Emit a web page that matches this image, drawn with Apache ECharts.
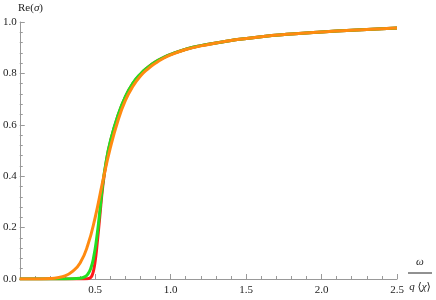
<!DOCTYPE html>
<html>
<head>
<meta charset="utf-8">
<script src="https://cdn.jsdelivr.net/npm/echarts@6/dist/echarts.min.js"></script>
<style>html,body{margin:0;padding:0;background:#fff}#c{width:436px;height:300px}</style>
</head>
<body>
<div id="c"></div>
<script>
var xTicks = ['0.5', '1.0', '1.5', '2.0', '2.5'];
var yTicks = ['0.0', '0.2', '0.4', '0.6', '0.8', '1.0'];

var omegaOrange = [0, 0.1, 0.2, 0.25, 0.3, 0.35, 0.4, 0.45, 0.5, 0.55, 0.6, 0.65, 0.7, 0.75, 0.8, 0.85, 0.9, 0.95, 1.0, 1.1, 1.2, 1.3, 1.4, 1.6, 1.8, 2.0, 2.2, 2.5];
var sigmaOrange = [0, 0.0, 0.002, 0.005, 0.012, 0.03, 0.062, 0.13, 0.24, 0.38, 0.51, 0.615, 0.695, 0.75, 0.79, 0.818, 0.84, 0.858, 0.872, 0.893, 0.907, 0.918, 0.928, 0.943, 0.953, 0.961, 0.968, 0.977];

var omegaGreen = [0, 0.2, 0.3, 0.4, 0.43, 0.45, 0.47, 0.49, 0.51, 0.53, 0.55, 0.575, 0.6, 0.65, 0.7, 0.75, 0.8, 0.85, 0.9, 0.95, 1.0, 1.1, 1.2, 1.3, 1.4, 1.6, 1.8, 2.0, 2.2, 2.5];
var sigmaGreen = [0, 0, 0.0, 0.003, 0.008, 0.018, 0.04, 0.085, 0.16, 0.26, 0.37, 0.465, 0.535, 0.635, 0.71, 0.762, 0.798, 0.824, 0.845, 0.861, 0.874, 0.894, 0.908, 0.918, 0.928, 0.943, 0.953, 0.961, 0.968, 0.977];

var omegaRed = [0, 0.2, 0.4, 0.45, 0.47, 0.48, 0.49, 0.5, 0.51, 0.53, 0.55, 0.575, 0.6, 0.65, 0.7, 0.75, 0.8, 0.85, 0.9, 0.95, 1.0, 1.1, 1.2, 1.3, 1.4, 1.6, 1.8, 2.0, 2.2, 2.5];
var sigmaRed = [0, 0, 0, 0.001, 0.006, 0.015, 0.035, 0.07, 0.12, 0.24, 0.36, 0.462, 0.533, 0.634, 0.709, 0.761, 0.797, 0.824, 0.845, 0.861, 0.874, 0.894, 0.908, 0.918, 0.928, 0.943, 0.953, 0.961, 0.968, 0.977];

function pairs(xs, ys) { return xs.map(function (x, i) { return [x, ys[i]]; }); }

var axisColor = '#999999';
var serif = '"Liberation Serif", "Times New Roman", "DejaVu Serif", serif';
var labelStyle = { color: '#222', fontFamily: serif, fontSize: 11 };

var chart = echarts.init(document.getElementById('c'), null, { renderer: 'canvas' });
chart.setOption({
  animation: false,
  textStyle: { fontFamily: serif },
  grid: { left: 16, right: 39, top: 22, bottom: 21, containLabel: false },
  xAxis: {
    type: 'value', min: 0, max: 2.5, interval: 0.5,
    axisLine: { show: true, lineStyle: { color: axisColor, width: 1 } },
    axisTick: { show: true, inside: true, length: 5, lineStyle: { color: axisColor } },
    minorTick: { show: true, splitNumber: 5, length: 3, lineStyle: { color: axisColor } },
    splitLine: { show: false },
    axisLabel: Object.assign({
      margin: 6,
      formatter: function (v) { var s = v.toFixed(1); return xTicks.indexOf(s) >= 0 ? s : ''; }
    }, labelStyle)
  },
  yAxis: {
    type: 'value', min: 0, max: 1, interval: 0.2,
    axisLine: { show: true, lineStyle: { color: axisColor, width: 1 } },
    axisTick: { show: true, inside: true, length: 5, lineStyle: { color: axisColor } },
    minorTick: { show: true, splitNumber: 5, length: 3, lineStyle: { color: axisColor } },
    splitLine: { show: false },
    axisLabel: Object.assign({
      margin: 3,
      formatter: function (v) { var s = v.toFixed(1); return yTicks.indexOf(s) >= 0 ? s : ''; }
    }, labelStyle)
  },
  series: [
    { type: 'line', data: pairs(omegaRed, sigmaRed), showSymbol: false, smooth: true, lineStyle: { color: '#ff1a1a', width: 3 }, z: 2 },
    { type: 'line', data: pairs(omegaGreen, sigmaGreen), showSymbol: false, smooth: true, lineStyle: { color: '#22e022', width: 3 }, z: 3 },
    { type: 'line', data: pairs(omegaOrange, sigmaOrange), showSymbol: false, smooth: true, lineStyle: { color: '#ff8a10', width: 3 }, z: 4 }
  ],
  graphic: [
    { type: 'text', left: 18, top: 3, style: { text: '{n|Re(}{i|σ}{n|)}', rich: { n: { fontFamily: serif, fontSize: 11, fill: '#222' }, i: { fontFamily: serif, fontStyle: 'italic', fontSize: 11, fill: '#222' } } } },
    { type: 'text', x: 420, y: 268, style: { text: 'ω', fontFamily: serif, fontStyle: 'italic', fontSize: 11, fill: '#222', align: 'center', verticalAlign: 'bottom' } },
    { type: 'line', shape: { x1: 408, y1: 273, x2: 432, y2: 273 }, style: { stroke: '#222', lineWidth: 1 } },
    { type: 'text', x: 420, y: 287, style: { text: '{i|q} ⟨{i|χ}⟩', rich: { i: { fontFamily: serif, fontStyle: 'italic', fontSize: 11, fill: '#222' } }, fontFamily: serif, fontSize: 11, fill: '#222', align: 'center', verticalAlign: 'middle' } }
  ]
});
</script>
</body>
</html>
